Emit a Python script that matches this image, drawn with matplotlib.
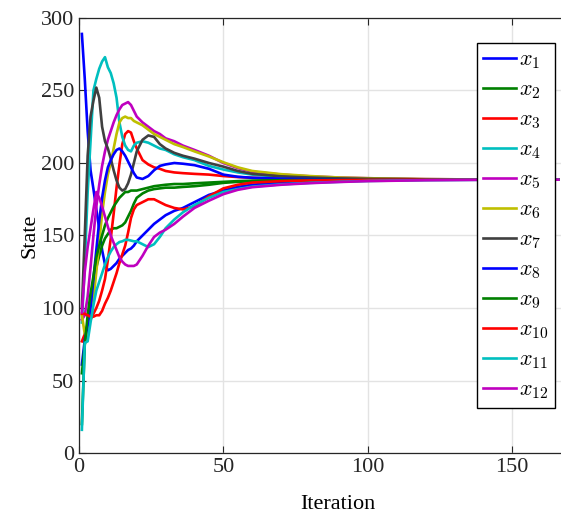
import matplotlib
matplotlib.use("Agg")
import matplotlib.pyplot as plt

it = [1, 2, 3, 4, 5, 6, 7, 8, 9, 10, 11, 12, 13, 14, 15, 16, 17, 18, 19, 20,
      22, 24, 26, 28, 30, 33, 36, 40, 45, 50, 55, 60, 70, 80, 90, 100, 120, 140, 166]

x1 = [289, 258, 222, 195, 182, 168, 155, 140, 130, 126, 127, 129, 131, 134, 136, 138, 140, 141, 143, 146,
      150, 154, 158, 161, 164, 167, 169, 173, 178, 181, 183.5, 185, 186.5, 187.3, 187.8, 188.1, 188.4, 188.5, 188.5]
x2 = [20, 75, 90, 105, 118, 128, 136, 143, 148, 151, 154, 155, 155, 156, 157, 159, 163, 167, 172, 176,
      179, 181, 182, 182.5, 183, 183, 183.5, 184, 185, 186.3, 187, 187.5, 188, 188.2, 188.4, 188.5, 188.5, 188.5, 188.5]
x3 = [77, 82, 88, 92, 96, 100, 105, 112, 120, 133, 148, 165, 183, 199, 213, 220, 222, 221, 215, 210,
      202, 199, 197, 196, 194.5, 193.5, 193, 192.5, 192, 191, 190.3, 189.8, 189.3, 189, 188.8, 188.7, 188.6, 188.5, 188.5]
x4 = [90, 130, 180, 215, 250, 258, 265, 270, 273, 266, 262, 255, 245, 228, 218, 212, 209, 208, 212, 214,
      215, 214, 212, 210, 209, 206, 204, 202, 198, 195.5, 193.5, 192, 190.5, 189.8, 189.3, 189, 188.7, 188.6, 188.5]
x5 = [92, 95, 108, 128, 150, 170, 185, 198, 208, 216, 222, 228, 233, 237, 240, 241, 242, 240, 236, 232,
      228, 225, 222, 220, 217, 215, 212, 209, 205, 200, 196.5, 194, 192, 190.8, 190, 189.5, 188.9, 188.6, 188.5]
x6 = [95, 82, 80, 95, 106, 125, 145, 165, 180, 192, 200, 210, 220, 228, 231, 232, 231, 231, 229, 228,
      226, 223, 220, 218, 216, 213, 211, 208, 204.5, 200.5, 197, 194.5, 192.3, 191, 190, 189.5, 188.9, 188.6, 188.5]
x7 = [100, 150, 205, 232, 243, 252, 245, 225, 215, 210, 203, 195, 188, 183, 181, 182, 186, 192, 200, 208,
      216, 219, 218, 213, 210, 207, 205, 203, 200, 197.5, 194.5, 192.5, 190.8, 190, 189.4, 189.1, 188.7, 188.6, 188.5]
x8 = [61, 78, 88, 100, 120, 140, 160, 176, 188, 197, 202, 206, 209, 210, 208, 205, 201, 197, 193, 190,
      189, 191, 195, 198, 199, 200, 199.5, 198.5, 196, 192, 190.5, 189.8, 189.2, 188.9, 188.7, 188.6, 188.5, 188.5, 188.5]
x9 = [55, 75, 95, 110, 122, 135, 143, 150, 157, 162, 166, 170, 173, 176, 178, 180, 180, 181, 181, 181,
      182, 183, 184, 184.5, 185, 185.5, 185.5, 186, 186.5, 187, 187.5, 187.8, 188.1, 188.3, 188.4, 188.5, 188.5, 188.5, 188.5]
x10 = [96, 96, 95, 94, 94, 95, 95, 98, 103, 107, 112, 118, 124, 131, 137, 143, 152, 162, 168, 171,
       173, 175, 175, 173, 171, 169, 168, 170, 177, 182.5, 185, 186.5, 187.5, 188, 188.2, 188.4, 188.5, 188.5, 188.5]
x11 = [16, 76, 77, 90, 102, 112, 118, 124, 130, 135, 139, 142, 144, 145.5, 146, 147, 147, 146.5, 146, 146,
       144, 142, 144, 149, 155, 161, 166, 171, 176, 180, 182, 183.7, 185.3, 186.3, 187, 187.6, 188.2, 188.4, 188.5]
x12 = [97, 125, 142, 155, 168, 180, 176, 170, 163, 156, 150, 145, 140, 135, 132, 130, 129, 129, 129, 130,
       136, 143, 149, 152, 154, 158, 163, 169, 174, 178.5, 181.5, 183.3, 185, 186.1, 186.9, 187.5, 188.1, 188.4, 188.5]

series = [x1, x2, x3, x4, x5, x6, x7, x8, x9, x10, x11, x12]
labels = [f"$x_{{{i}}}$" for i in range(1, 13)]
colors = ["#0000ff", "#008000", "#ff0000", "#00bfbf", "#bf00bf", "#bfbf00", "#404040"] * 2

plt.rcParams["font.family"] = ["Liberation Serif", "DejaVu Serif"]
plt.rcParams["mathtext.fontset"] = "cm"

fig = plt.figure(figsize=(5.61, 5.18), dpi=100)
# the original axes run past the right edge of the picture (it was cropped)
ax = fig.add_axes([79 / 561, 1 - 453 / 518, 518 / 561, 435 / 518])

for ys, lab, col in zip(series, labels, colors):
    ax.plot(it, ys, color=col, lw=1.9, label=lab)

ax.set_xlim(0, 179.4)
ax.set_ylim(0, 300)
ax.set_xticks([0, 50, 100, 150])
ax.set_yticks(range(0, 301, 50))
ax.grid(True, color="#e3e3e3", lw=1)
ax.set_axisbelow(True)
ax.tick_params(direction="in", length=5, labelsize=16, top=True, right=False,
               color="#262626", labelcolor="#262626")
for s in ax.spines.values():
    s.set_color("#262626")
    s.set_linewidth(0.9)
ax.set_xlabel("Iteration", fontsize=16, labelpad=13)
ax.set_ylabel("State", fontsize=16, labelpad=1)

leg = ax.legend(loc="upper left", bbox_to_anchor=(0.768, 0.942), fontsize=16,
                handlelength=1.45, handletextpad=0.15, labelspacing=0.39,
                borderpad=0.3, borderaxespad=0, fancybox=False, framealpha=1)
leg.get_frame().set_edgecolor("black")
leg.get_frame().set_linewidth(1.0)

fig.savefig("out.png", dpi=100)
